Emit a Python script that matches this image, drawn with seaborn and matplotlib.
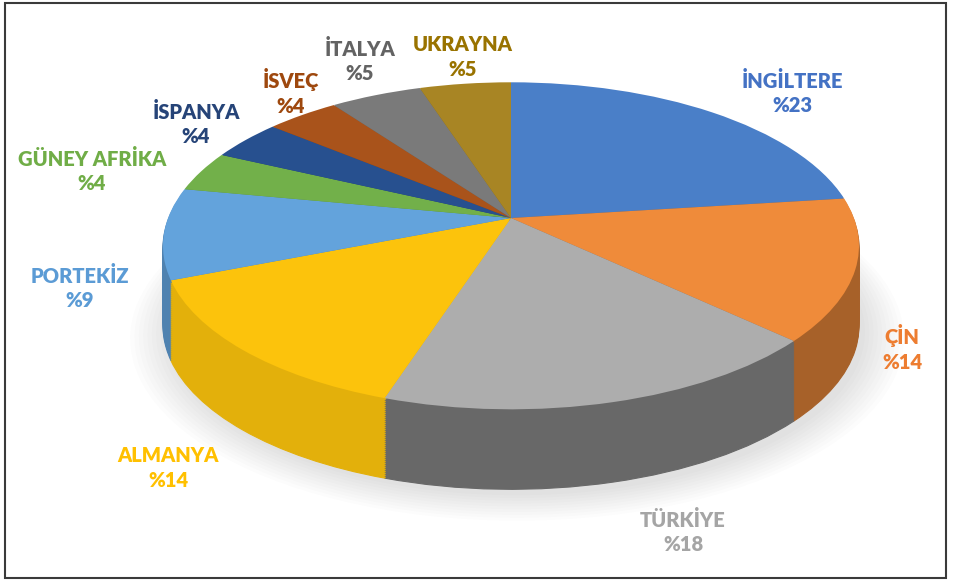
import numpy as np
import matplotlib
matplotlib.use('Agg')
import matplotlib.pyplot as plt
import matplotlib.colors as mcolors
import matplotlib.transforms as mtransforms
from matplotlib.patches import Rectangle
import seaborn as sns

# --- veriler ---
ulkeler = ['İNGİLTERE', 'ÇİN', 'TÜRKİYE', 'ALMANYA', 'PORTEKİZ',
           'GÜNEY AFRİKA', 'İSPANYA', 'İSVEÇ', 'İTALYA', 'UKRAYNA']
oranlar = [23, 14, 18, 14, 9, 4, 4, 4, 5, 5]
renkler = ['#4a7fc8', '#ef8b3a', '#adadad', '#fcc30c', '#63a3dc',
           '#72b04a', '#27508f', '#a9531b', '#7a7a7a', '#a88524']
yazi_renkleri = ['#4472c4', '#ed7d31', '#a5a5a5', '#ffc000', '#5b9bd5',
                 '#70ad47', '#264478', '#9e480e', '#636363', '#997300']
# yan yüz koyuluk katsayıları
yan_koyuluk = [0.75, 0.7, 0.6, 0.9, 0.8, 0.8, 0.8, 0.8, 0.8, 0.8]

# etiket merkezleri (piksel, sol-üst köşeye göre) - yerleşim
etiket_yeri = [(792, 93), (902, 348), (683, 532), (168, 468), (80, 288),
               (92, 171), (196, 124), (291, 92), (360, 61), (463, 57)]

W, H = 955, 581


class Perspektif(mtransforms.Transform):
    """Birim diski eğik bir düzlem gibi (perspektifli) piksel koordinatlarına taşır."""
    input_dims = 2
    output_dims = 2

    def __init__(self, cx, cy, sx, sy, a, dy=0.0):
        super().__init__()
        self.cx, self.cy, self.sx, self.sy, self.a, self.dy = cx, cy, sx, sy, a, dy

    def transform_non_affine(self, values):
        values = np.asarray(values, dtype=float)
        u, v = values[:, 0], values[:, 1]
        k = 1 + self.a * v
        X = self.cx + self.sx * u / k
        Y = self.cy - self.sy * v / k + self.dy
        return np.column_stack([X, Y])


sns.set_theme(style='white')
plt.rcParams['font.family'] = ['Lato', 'DejaVu Sans']

fig = plt.figure(figsize=(W / 100, H / 100), dpi=100)
ax = fig.add_axes([0, 0, 1, 1])

# perspektif geometrisi (piksel)
a = 0.17
cx, cy = 511, 218                 # dilimlerin birleştiği nokta
sx = 348 * np.sqrt(1 - a ** 2)
sy = 163.5 * (1 - a ** 2)
derinlik = 80                     # yan yüz kalınlığı


def pasta(renk_listesi, dy, **kw):
    wedges, _ = ax.pie(oranlar, colors=renk_listesi, startangle=90, counterclock=False,
                       center=(0, 0), radius=1, **kw)
    T = Perspektif(cx, cy, sx, sy, a, dy) + ax.transData
    for w in wedges:
        w.set_transform(T)
    return wedges


# gölge
for i in range(10):
    wedges, _ = ax.pie([1], colors=['#000000'], radius=1 + 0.012 * i, center=(0, 0),
                       wedgeprops=dict(linewidth=0, alpha=0.012))
    wedges[0].set_transform(Perspektif(cx + 6, cy, sx, sy, a, derinlik + 6) + ax.transData)

# yan yüz
yan_renkler = [tuple(np.array(mcolors.to_rgb(r)) * f) for r, f in zip(renkler, yan_koyuluk)]
katman = 40
for k in range(katman, 0, -1):
    ws = pasta(yan_renkler, derinlik * k / katman, wedgeprops=dict(linewidth=0.8))
    for w, c in zip(ws, yan_renkler):
        w.set_edgecolor(c)

# üst yüz
pasta(renkler, 0, wedgeprops=dict(linewidth=0))

ax.set_aspect('auto')
ax.set_xlim(0, W)
ax.set_ylim(H, 0)
ax.axis('off')

# etiketler
for ad, oran, renk, (px, py) in zip(ulkeler, oranlar, yazi_renkleri, etiket_yeri):
    fig.text(px / W, 1 - py / H, f'{ad}\n%{oran}', color=renk,
             ha='center', va='center', fontsize=14.5, fontweight='heavy',
             linespacing=1.35)

# çerçeve
fig.patches.append(Rectangle((5 / W, 3 / H), 941 / W, 575 / H,
                             transform=fig.transFigure, fill=False,
                             edgecolor='#3a3a3a', linewidth=1.5))

fig.savefig('out.png', dpi=100)
